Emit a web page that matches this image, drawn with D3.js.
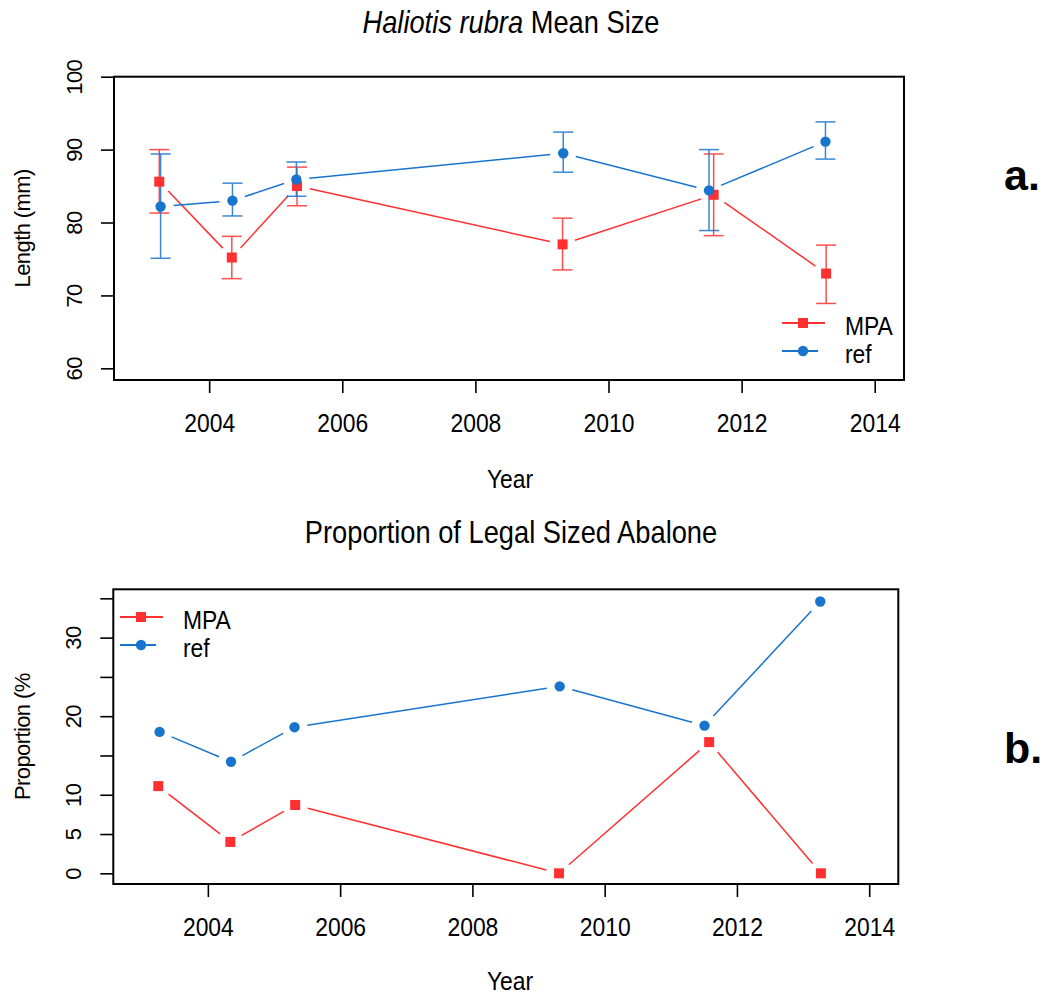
<!DOCTYPE html>
<html>
<head>
<meta charset="utf-8">
<script src="https://cdn.jsdelivr.net/npm/d3@7"></script>
<style>
  html, body { margin: 0; padding: 0; background: #fff; }
  svg text { font-family: "Liberation Sans", Arial, Helvetica, sans-serif; fill: #000; }
</style>
</head>
<body>
<svg id="chart" width="1048" height="997"></svg>
<script>
// ---- data ----
const yearsMPA = [2003.25, 2004.34, 2005.32, 2009.31, 2011.58, 2013.27];
const yearsRef = [2003.27, 2004.35, 2005.31, 2009.32, 2011.51, 2013.26];

// mean shell length (mm) with lower / upper error bounds
const sizeMPA     = [85.6, 75.2, 85.0, 77.0, 83.8, 73.0];
const sizeMPALow  = [81.3, 72.3, 82.3, 73.5, 78.2, 68.9];
const sizeMPAHigh = [90.0, 78.1, 87.6, 80.6, 89.4, 76.9];
const sizeRef     = [82.2, 83.0, 85.9, 89.5, 84.4, 91.1];
const sizeRefLow  = [75.1, 80.9, 83.6, 86.9, 78.9, 88.7];
const sizeRefHigh = [89.4, 85.4, 88.3, 92.4, 90.0, 93.8];

// proportion of legal sized abalone (%)
const propMPA = [11.1, 4.0, 8.7, 0.0, 16.7, 0.0];
const propRef = [18.0, 14.2, 18.6, 23.8, 18.8, 34.6];

const yearTicks = [2004, 2006, 2008, 2010, 2012, 2014];
const sizeTicks = [60, 70, 80, 90, 100];
const propTicks = [0, 5, 10, 15, 20, 25, 30, 35];
const propTickLabels = [0, 5, 10, 20, 30];

const seriesNames = ["MPA", "ref"];
const RED = "#FF3030", BLUE = "#1874CD";

// ---- layout ----
const svg = d3.select("#chart");
const font = 26;        // horizontal text size
const yFont = 22;       // rotated axis text size
const squeeze = 0.88;   // narrow the horizontal glyphs a little

function hText(g, x, y, size, str, anchor) {
  return g.append("text")
    .attr("transform", `translate(${x},${y}) scale(${squeeze},1)`)
    .attr("text-anchor", anchor || "middle")
    .attr("font-size", size)
    .text(str);
}

function panel(cfg) {
  const g = svg.append("g");
  const x = d3.scaleLinear().domain([2002.57, 2014.44]).range([cfg.left, cfg.right]);
  const y = d3.scaleLinear().domain(cfg.yDomain).range([cfg.bottom, cfg.top]);

  // x axis
  const xAxis = d3.axisBottom(x).tickValues(yearTicks).tickSize(13).tickFormat(d3.format("d"));
  const xg = g.append("g").attr("transform", `translate(0,${cfg.bottom})`).call(xAxis);
  xg.select(".domain").remove();
  xg.selectAll(".tick line").attr("stroke", "#000").attr("stroke-width", 1.6);
  xg.selectAll(".tick text").attr("font-size", font).attr("font-family", null)
    .attr("dy", null).attr("y", null)
    .attr("transform", `translate(0,52) scale(${squeeze},1)`);

  // y axis
  const yAxis = d3.axisLeft(y).tickValues(cfg.yTicks).tickSize(13)
    .tickFormat(d => cfg.yLabels.includes(d) ? String(d) : "");
  const yg = g.append("g").attr("transform", `translate(${cfg.left},0)`).call(yAxis);
  yg.select(".domain").remove();
  yg.selectAll(".tick line").attr("stroke", "#000").attr("stroke-width", 1.6);
  yg.selectAll(".tick text")
    .attr("font-size", yFont).attr("font-family", null)
    .attr("x", null).attr("dy", null).attr("y", null)
    .attr("text-anchor", "middle")
    .attr("letter-spacing", -0.6)
    .attr("transform", "translate(-32,0) rotate(-90)");

  // frame
  g.append("rect")
    .attr("x", cfg.left).attr("y", cfg.top)
    .attr("width", cfg.right - cfg.left).attr("height", cfg.bottom - cfg.top)
    .attr("fill", "none").attr("stroke", "#000").attr("stroke-width", 2);

  // titles
  const t = hText(g, 511, cfg.titleY, 31, null);
  cfg.title.forEach(p => t.append("tspan").attr("font-style", p.italic ? "italic" : "normal").text(p.text));

  hText(g, 510, cfg.xTitleY, font, "Year");

  g.append("text")
    .attr("transform", `translate(30,${(cfg.top + cfg.bottom) / 2}) rotate(-90)`)
    .attr("text-anchor", "middle").attr("font-size", yFont).attr("letter-spacing", -0.6)
    .text(cfg.yTitle);

  g.append("text").attr("x", 1004).attr("y", cfg.tagY)
    .attr("font-size", 43).attr("font-weight", "bold").text(cfg.tag);

  return { g, x, y };
}

// connected line with gaps around each point
function gappedLine(g, x, y, xs, vs, color, gap) {
  for (let i = 0; i < xs.length - 1; i++) {
    const x0 = x(xs[i]), y0 = y(vs[i]), x1 = x(xs[i + 1]), y1 = y(vs[i + 1]);
    const len = Math.hypot(x1 - x0, y1 - y0);
    if (len <= 2 * gap) continue;
    const ux = (x1 - x0) / len, uy = (y1 - y0) / len;
    g.append("line")
      .attr("x1", x0 + ux * gap).attr("y1", y0 + uy * gap)
      .attr("x2", x1 - ux * gap).attr("y2", y1 - uy * gap)
      .attr("stroke", color).attr("stroke-width", 1.5);
  }
}

function errorBars(g, x, y, xs, lo, hi, color) {
  const cap = 10;
  xs.forEach((yr, i) => {
    const px = x(yr);
    const eb = g.append("g").attr("stroke", color).attr("stroke-width", 1.5).attr("opacity", 0.85);
    eb.append("line").attr("x1", px).attr("x2", px).attr("y1", y(lo[i])).attr("y2", y(hi[i]));
    eb.append("line").attr("x1", px - cap).attr("x2", px + cap).attr("y1", y(lo[i])).attr("y2", y(lo[i]));
    eb.append("line").attr("x1", px - cap).attr("x2", px + cap).attr("y1", y(hi[i])).attr("y2", y(hi[i]));
  });
}

function squares(g, x, y, xs, vs) {
  g.selectAll(null).data(xs.map((d, i) => [d, vs[i]])).enter().append("rect")
    .attr("x", d => x(d[0]) - 5).attr("y", d => y(d[1]) - 5)
    .attr("width", 10).attr("height", 10).attr("fill", RED);
}
function circles(g, x, y, xs, vs) {
  g.selectAll(null).data(xs.map((d, i) => [d, vs[i]])).enter().append("circle")
    .attr("cx", d => x(d[0])).attr("cy", d => y(d[1])).attr("r", 5.2).attr("fill", BLUE);
}

function legend(g, lx, ly) {
  const items = [{ name: seriesNames[0], color: RED, shape: "square", len: 43 },
                 { name: seriesNames[1], color: BLUE, shape: "circle", len: 36 }];
  items.forEach((it, i) => {
    const yy = ly + i * 28;
    g.append("line").attr("x1", lx).attr("x2", lx + it.len).attr("y1", yy).attr("y2", yy)
      .attr("stroke", it.color).attr("stroke-width", 2.2);
    const mx = lx + 21;
    if (it.shape === "square") {
      g.append("rect").attr("x", mx - 5).attr("y", yy - 5).attr("width", 10).attr("height", 10).attr("fill", it.color);
    } else {
      g.append("circle").attr("cx", mx).attr("cy", yy).attr("r", 5.2).attr("fill", it.color);
    }
    hText(g, lx + 63, yy + 12, font, it.name, "start");
  });
}

// ---- panel a: mean size ----
const a = panel({
  left: 114, right: 904, top: 76.7, bottom: 380,
  yDomain: [58.4, 100], yTicks: sizeTicks, yLabels: sizeTicks,
  title: [{ text: "Haliotis rubra", italic: true }, { text: " Mean Size" }],
  titleY: 33, xTitleY: 488, yTitle: "Length (mm)", tag: "a.", tagY: 190
});
gappedLine(a.g, a.x, a.y, yearsMPA, sizeMPA, RED, 13);
gappedLine(a.g, a.x, a.y, yearsRef, sizeRef, BLUE, 13);
errorBars(a.g, a.x, a.y, yearsMPA, sizeMPALow, sizeMPAHigh, RED);
errorBars(a.g, a.x, a.y, yearsRef, sizeRefLow, sizeRefHigh, BLUE);
squares(a.g, a.x, a.y, yearsMPA, sizeMPA);
circles(a.g, a.x, a.y, yearsRef, sizeRef);
legend(a.g, 782, 323);

// ---- panel b: proportion legal size ----
const b = panel({
  left: 113.3, right: 898.3, top: 589.3, bottom: 884,
  yDomain: [-1.36, 36.15], yTicks: propTicks, yLabels: propTickLabels,
  title: [{ text: "Proportion of Legal Sized Abalone" }],
  titleY: 543, xTitleY: 990, yTitle: "Proportion (%", tag: "b.", tagY: 763
});
gappedLine(b.g, b.x, b.y, yearsMPA, propMPA, RED, 13);
gappedLine(b.g, b.x, b.y, yearsRef, propRef, BLUE, 13);
squares(b.g, b.x, b.y, yearsMPA, propMPA);
circles(b.g, b.x, b.y, yearsRef, propRef);
legend(b.g, 120, 617);
</script>
</body>
</html>
